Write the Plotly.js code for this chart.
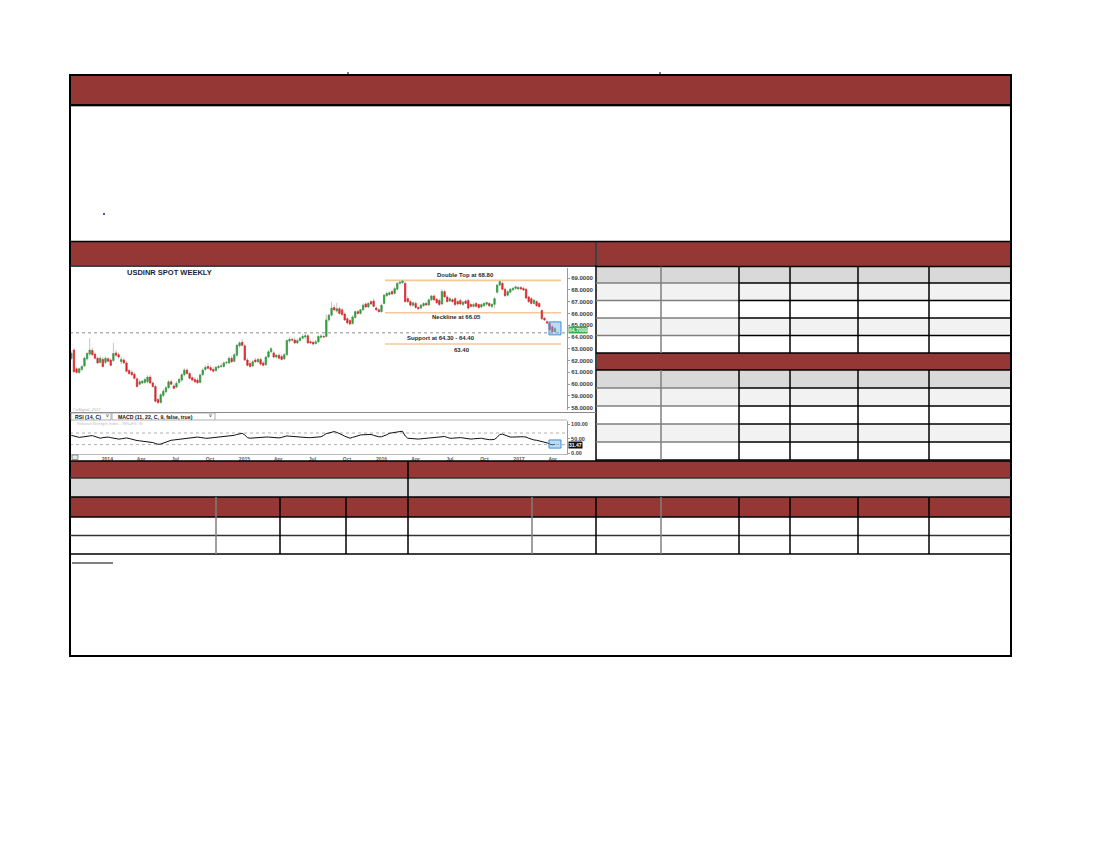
<!DOCTYPE html>
<html>
<head>
<meta charset="utf-8">
<script src="https://cdn.plot.ly/plotly-3.0.1.min.js"></script>
<style>
  html, body { margin: 0; padding: 0; background: #ffffff; }
  #page { width: 1100px; height: 850px; }
</style>
</head>
<body>
<div id="page"></div>
<script>
// USDINR spot, weekly candles (week ending Friday), first week below
const firstWeek = '2013-09-27';

const opens = [
  62.19, 62.90, 61.30, 61.00, 61.25, 61.55, 62.15, 62.55, 62.85, 62.55,
  62.20, 61.85, 62.10, 61.85, 62.15, 62.05, 62.00, 62.65, 62.50, 61.90,
  62.05, 61.80, 61.15, 61.00, 60.85, 60.45, 60.00, 60.10, 60.15, 60.20,
  60.60, 60.10, 59.80, 58.70, 58.45, 59.05, 59.35, 59.70, 60.20, 59.85,
  59.75, 60.15, 60.35, 60.80, 61.20, 60.90, 60.55, 60.40, 60.35, 60.15,
  60.80, 61.25, 61.50, 61.40, 61.25, 61.15, 61.40, 61.50, 61.50, 61.80,
  61.80, 62.20, 61.95, 62.45, 63.25, 63.55, 63.25, 62.05, 61.75, 61.55,
  62.05, 61.90, 62.10, 61.80, 61.65, 62.30, 62.75, 62.65, 62.30, 62.45,
  62.35, 62.15, 62.50, 63.65, 63.80, 63.75, 63.50, 63.70, 63.90, 64.00,
  64.10, 63.60, 63.55, 63.45, 63.60, 63.98, 64.05, 64.05, 65.45, 65.85,
  66.50, 66.20, 66.40, 66.30, 65.95, 65.55, 65.40, 65.15, 65.65, 66.15,
  66.00, 66.30, 66.80, 66.55, 67.00, 67.05, 66.45, 66.30, 66.15, 66.85,
  67.50, 67.60, 67.85, 67.70, 68.05, 68.55, 68.60, 68.55, 67.25, 67.00,
  66.70, 66.85, 66.50, 66.45, 66.65, 66.85, 66.72, 67.15, 67.48, 67.20,
  67.10, 66.80, 67.85, 67.40, 67.05, 67.15, 67.25, 67.00, 67.10, 66.75,
  67.05, 67.10, 66.75, 66.60, 66.85, 66.75, 66.55, 66.65, 66.78, 66.85,
  66.58, 66.77, 67.80, 68.40, 68.55, 68.05, 67.55, 67.80, 68.00, 68.12,
  68.08, 68.20, 68.12, 68.05, 67.40, 67.25, 66.85, 67.00, 66.85, 66.25,
  65.58, 65.30, 65.15, 64.87, 64.45
];

const highs = [
  62.80, 63.05, 61.45, 61.40, 61.65, 62.35, 62.75, 63.90, 63.10, 62.70,
  62.35, 62.40, 62.30, 62.35, 62.30, 62.20, 63.50, 62.90, 62.70, 62.30,
  62.20, 61.95, 61.30, 61.20, 61.00, 60.60, 60.40, 60.35, 60.55, 60.75,
  60.80, 60.25, 59.95, 58.85, 59.25, 59.60, 59.85, 60.35, 60.40, 60.05,
  60.25, 60.55, 60.95, 61.35, 61.35, 61.05, 60.70, 60.60, 60.55, 60.90,
  61.35, 61.60, 61.75, 61.60, 61.45, 61.55, 61.65, 61.75, 61.95, 61.95,
  62.35, 62.40, 62.65, 63.40, 63.65, 63.80, 63.40, 62.20, 61.95, 62.05,
  62.25, 62.25, 62.25, 61.95, 62.40, 62.90, 63.15, 62.80, 62.55, 62.60,
  62.55, 62.65, 63.80, 64.00, 63.95, 63.95, 63.85, 64.05, 64.25, 64.30,
  64.25, 63.75, 63.70, 63.75, 64.15, 64.25, 64.20, 65.90, 66.00, 67.00,
  66.75, 66.90, 66.55, 66.45, 66.10, 65.70, 65.55, 65.85, 66.25, 66.30,
  66.40, 66.85, 66.95, 66.95, 67.10, 67.25, 66.60, 66.45, 66.85, 67.65,
  67.85, 67.90, 68.00, 68.25, 68.65, 68.80, 68.85, 68.70, 67.45, 67.15,
  67.00, 67.00, 66.65, 66.80, 66.95, 67.00, 67.25, 67.55, 67.60, 67.30,
  67.25, 68.05, 68.00, 67.55, 67.40, 67.30, 67.40, 67.10, 67.25, 67.05,
  67.20, 67.25, 66.90, 66.90, 66.95, 66.85, 66.85, 66.95, 67.00, 66.95,
  66.85, 67.40, 68.50, 68.85, 68.70, 68.20, 67.95, 68.15, 68.25, 68.35,
  68.30, 68.30, 68.25, 68.15, 67.50, 67.35, 67.20, 67.10, 66.95, 66.35,
  65.70, 65.45, 65.25, 64.95, 64.85
];

const lows = [
  62.05, 60.95, 60.90, 60.85, 61.10, 61.45, 62.00, 62.40, 62.40, 62.10,
  61.70, 61.75, 61.40, 61.70, 61.85, 61.50, 61.90, 62.30, 62.15, 61.70,
  61.70, 61.00, 60.80, 60.70, 60.40, 59.70, 59.90, 60.00, 60.00, 60.05,
  60.00, 59.70, 58.45, 58.30, 58.35, 58.90, 59.20, 59.60, 59.90, 59.55,
  59.65, 60.00, 60.20, 60.65, 60.80, 60.40, 60.25, 60.10, 60.00, 60.05,
  60.70, 61.10, 61.25, 61.10, 61.00, 61.05, 61.30, 61.40, 61.40, 61.70,
  61.70, 61.80, 61.85, 62.35, 63.10, 63.20, 61.95, 61.50, 61.40, 61.45,
  61.80, 61.80, 61.60, 61.50, 61.55, 62.20, 62.60, 62.20, 62.20, 62.10,
  62.00, 62.05, 62.40, 63.50, 63.60, 63.40, 63.40, 63.60, 63.80, 63.85,
  63.40, 63.40, 63.30, 63.35, 63.50, 63.85, 63.90, 63.95, 65.30, 65.75,
  66.20, 66.05, 65.90, 65.80, 65.35, 65.05, 65.00, 65.05, 65.55, 65.90,
  65.90, 66.20, 66.45, 66.45, 66.70, 66.50, 66.20, 66.05, 66.05, 66.75,
  67.40, 67.50, 67.55, 67.60, 67.95, 68.45, 68.50, 66.90, 66.90, 66.60,
  66.60, 66.40, 66.25, 66.35, 66.55, 66.65, 66.60, 67.05, 67.05, 66.80,
  66.60, 66.70, 67.35, 66.90, 66.95, 66.90, 66.60, 66.65, 66.70, 66.65,
  66.80, 66.30, 66.50, 66.50, 66.50, 66.40, 66.45, 66.55, 66.65, 66.55,
  66.45, 66.43, 67.70, 68.30, 67.95, 67.40, 67.45, 67.70, 67.90, 68.00,
  67.95, 67.95, 67.90, 67.20, 66.90, 66.75, 66.75, 66.55, 66.50, 65.45,
  65.35, 65.10, 64.55, 64.30, 64.35
];

const closes = [
  62.62, 61.06, 61.00, 61.30, 61.50, 62.20, 62.60, 62.90, 62.50, 62.20,
  61.80, 62.20, 61.50, 62.20, 61.95, 61.60, 62.60, 62.45, 62.30, 62.10,
  61.80, 61.10, 60.90, 60.80, 60.50, 59.80, 60.20, 60.25, 60.40, 60.60,
  60.10, 59.80, 58.55, 58.44, 59.10, 59.40, 59.70, 60.20, 60.00, 59.65,
  60.07, 60.40, 60.80, 61.20, 60.90, 60.50, 60.35, 60.20, 60.13, 60.78,
  61.20, 61.43, 61.35, 61.20, 61.10, 61.43, 61.50, 61.55, 61.80, 61.85,
  62.20, 61.90, 62.50, 63.30, 63.50, 63.30, 62.05, 61.60, 61.50, 61.90,
  61.90, 62.10, 61.70, 61.60, 62.30, 62.75, 63.00, 62.30, 62.45, 62.20,
  62.10, 62.50, 63.70, 63.80, 63.75, 63.50, 63.70, 63.90, 64.05, 64.10,
  63.50, 63.50, 63.40, 63.60, 64.05, 64.08, 64.00, 65.45, 65.85, 66.45,
  66.30, 66.40, 66.00, 65.90, 65.45, 65.20, 65.10, 65.70, 66.15, 66.00,
  66.30, 66.70, 66.55, 66.85, 66.80, 66.60, 66.30, 66.15, 66.70, 67.55,
  67.70, 67.75, 67.65, 68.10, 68.55, 68.65, 68.75, 67.00, 67.00, 66.70,
  66.90, 66.50, 66.40, 66.70, 66.85, 66.72, 67.15, 67.48, 67.15, 66.90,
  66.75, 67.85, 67.40, 67.00, 67.25, 67.00, 66.75, 66.80, 66.80, 66.95,
  66.85, 66.45, 66.60, 66.75, 66.60, 66.50, 66.75, 66.85, 66.92, 66.65,
  66.77, 67.25, 68.40, 68.70, 68.05, 67.50, 67.85, 68.05, 68.12, 68.25,
  68.20, 68.07, 67.98, 67.30, 67.00, 66.85, 67.12, 66.65, 66.57, 65.55,
  65.44, 65.18, 64.62, 64.45, 64.70
];

// RSI (14, close), one value per weekly candle
const rsi14 = [
  62, 60, 57, 55, 56, 58, 59, 60, 61, 58,
  53, 52, 54, 55, 56, 54, 52, 50, 49, 50,
  52, 53, 51, 48, 46, 44, 43, 42, 41, 40,
  39, 37, 34, 31, 32, 35, 39, 43, 45, 46,
  47, 48, 49, 50, 52, 53, 55, 56, 56, 55,
  53, 52, 52, 53, 54, 55, 56, 56, 57, 57,
  58, 60, 62, 65, 67, 69, 63, 54, 52, 53,
  54, 54, 55, 55, 56, 56, 55, 54, 52, 53,
  55, 58, 60, 59, 58, 57, 56, 56, 55, 54,
  54, 54, 55, 56, 56, 57, 62, 68, 70, 73,
  75, 72, 69, 64, 59, 55, 52, 55, 58, 61,
  63, 64, 64, 65, 65, 62, 59, 57, 57, 60,
  64, 69, 71, 73, 74, 75, 76, 60, 52, 51,
  50, 49, 49, 50, 51, 52, 52, 52, 54, 55,
  57, 56, 58, 55, 52, 52, 53, 54, 54, 53,
  51, 50, 49, 50, 51, 52, 52, 50, 48, 47,
  47, 48, 55, 65, 66, 62, 59, 56, 56, 57,
  57, 57, 57, 56, 52, 48, 46, 45, 43, 42,
  39, 36, 32, 29, 31.47
];

// Chart pattern levels and their captions
const levelValues = [68.80, 66.05, 64.35, 63.40];
const levelLabels = ['Double Top at 68.80', 'Neckline at 66.05', 'Support at 64.30 - 64.40', '63.40'];

// Axis ticks
const priceTicks = [58, 59, 60, 61, 62, 63, 64, 65, 66, 67, 68, 69];
const rsiTicks = [0, 50, 100];
const rsiBands = [70, 30];
const quarterTicks = ['2014-01-01', '2014-04-01', '2014-07-01', '2014-10-01',
  '2015-01-01', '2015-04-01', '2015-07-01', '2015-10-01',
  '2016-01-01', '2016-04-01', '2016-07-01', '2016-10-01',
  '2017-01-01', '2017-04-01'];
const quarterLabels = ['2014', 'Apr', 'Jul', 'Oct', '2015', 'Apr', 'Jul', 'Oct',
  '2016', 'Apr', 'Jul', 'Oct', '2017', 'Apr'];

// ---- helpers ----
const W = 1100, H = 850;
const px = x => x / W;
const py = y => 1 - y / H;
const DAY = 864e5;
const FONT = 'Liberation Sans, Arial, sans-serif';
const t0 = Date.parse(firstWeek + 'T00:00:00Z');
const weeks = closes.map((_, i) => new Date(t0 + i * 7 * DAY).toISOString().slice(0, 10));
const shiftDays = (iso, d) => new Date(Date.parse(iso + 'T00:00:00Z') + d * DAY)
  .toISOString().slice(0, 19).replace('T', ' ');
const N = closes.length;

const RED = '#953735', GRAY = '#d9d9d9', LIGHT = '#f2f2f2', BLACK = '#000000', GREYLINE = '#7f7f7f';
const UP = '#2f9e3a', DOWN = '#e2262a', WICK = '#c6c6c6';

// ---- traces ----
const wicks = {
  type: 'candlestick', x: weeks, open: opens, high: highs, low: lows, close: closes,
  xaxis: 'x', yaxis: 'y', whiskerwidth: 0, hoverinfo: 'skip',
  increasing: { line: { color: WICK, width: 1 }, fillcolor: WICK },
  decreasing: { line: { color: WICK, width: 1 }, fillcolor: WICK }
};
const bodies = {
  type: 'candlestick', x: weeks, open: opens, close: closes,
  high: opens.map((o, i) => Math.max(o, closes[i])),
  low: opens.map((o, i) => Math.min(o, closes[i])),
  xaxis: 'x', yaxis: 'y', whiskerwidth: 0, hoverinfo: 'skip',
  increasing: { line: { color: UP, width: 0.6 }, fillcolor: UP },
  decreasing: { line: { color: DOWN, width: 0.6 }, fillcolor: DOWN }
};
const rsiLine = {
  type: 'scatter', mode: 'lines', x: weeks, y: rsi14, xaxis: 'x', yaxis: 'y2',
  line: { color: '#111111', width: 1 }, hoverinfo: 'skip'
};

// ---- shapes ----
const shapes = [];
function box(x0, y0, x1, y1, fill, layer) {
  shapes.push({ type: 'rect', xref: 'paper', yref: 'paper', x0: px(x0), x1: px(x1), y0: py(y1), y1: py(y0),
    fillcolor: fill, line: { width: 0 }, layer: layer || 'below' });
}
function frame(x0, y0, x1, y1, color, w, fill) {
  shapes.push({ type: 'rect', xref: 'paper', yref: 'paper', x0: px(x0), x1: px(x1), y0: py(y1), y1: py(y0),
    fillcolor: fill || 'rgba(0,0,0,0)', line: { color: color, width: w } });
}
function hline(y, x0, x1, color, w, dash) {
  shapes.push({ type: 'line', xref: 'paper', yref: 'paper', x0: px(x0), x1: px(x1), y0: py(y), y1: py(y),
    line: { color: color, width: w, dash: dash || 'solid' } });
}
function vline(x, y0, y1, color, w) {
  shapes.push({ type: 'line', xref: 'paper', yref: 'paper', x0: px(x), x1: px(x), y0: py(y0), y1: py(y1),
    line: { color: color, width: w } });
}

// page blocks
box(71, 76, 1010, 104, RED);
box(71, 242, 595, 265, RED);
box(597, 242, 1010, 266, RED);
box(597, 267, 1010, 283, GRAY);
box(597, 283, 1010, 300.5, LIGHT);
box(597, 318, 1010, 335.5, LIGHT);
box(597, 353, 1010, 370, RED);
box(597, 370, 1010, 388, GRAY);
box(597, 388, 1010, 406, LIGHT);
box(597, 424, 1010, 442, LIGHT);
box(71, 461, 1010, 478, RED, 'above');
box(71, 478, 1010, 497, GRAY, 'above');
box(71, 497, 1010, 517, RED, 'above');
box(103, 213, 105, 215, '#2a62c0');

// rules of the form
frame(70, 75, 1011, 656, BLACK, 2);
vline(348, 72, 75, BLACK, 1);
vline(660, 72, 75, BLACK, 1);
hline(105, 70, 1011, BLACK, 2);
hline(106.5, 71, 1010, '#b0b0b0', 1);
hline(241.5, 70, 1011, BLACK, 1.5);
vline(596, 241, 461, BLACK, 1.5);
hline(266, 70, 596, BLACK, 1.5);

const rightCols = [661, 739, 790, 858, 929];
[266.5, 353, 370, 460].forEach(y => hline(y, 596, 1011, BLACK, 1.5));
[283, 300.5, 318, 335.5, 388, 406, 424, 442].forEach(y => {
  hline(y, 596, 739, GREYLINE, 1.5);
  hline(y, 739, 1011, BLACK, 1.5);
});
rightCols.forEach(x => {
  const c = x === 661 ? GREYLINE : BLACK;
  vline(x, 266.5, 353, c, 1.5);
  vline(x, 370, 460, c, 1.5);
});

hline(461, 70, 1011, BLACK, 1.5);
hline(478, 70, 1011, '#333333', 1.5);
hline(497, 70, 1011, BLACK, 1.5);
hline(517, 70, 1011, BLACK, 1.5);
hline(535.5, 70, 1011, '#333333', 1.5);
hline(554, 70, 1011, BLACK, 1.5);
vline(408, 461, 554, BLACK, 1.5);
[216, 280, 346, 532, 596, 661, 739, 790, 858, 929].forEach(x => {
  const c = (x === 216 || x === 532 || x === 661) ? GREYLINE : BLACK;
  vline(x, 497, 554, c, 1.5);
});
hline(563, 72, 113, BLACK, 1);

// study tabs between price and RSI panes
hline(412.5, 70, 596, '#8a8a8a', 1);
frame(71, 413, 111, 420, '#9a9a9a', 0.8, '#ffffff');
frame(112, 413, 215, 420, '#9a9a9a', 0.8, '#ffffff');
hline(420, 215, 567, '#b5b5b5', 1);
frame(72, 455, 78, 459.5, '#777777', 0.8, '#e8e8e8');

// pattern levels drawn on the price scale
const lineSpan = [385, 561];
[0, 1, 3].forEach(k => shapes.push({
  type: 'line', xref: 'paper', yref: 'y', x0: px(lineSpan[0]), x1: px(lineSpan[1]),
  y0: levelValues[k], y1: levelValues[k], line: { color: '#f7c897', width: 1.6 }, layer: 'below'
}));
shapes.push({
  type: 'line', xref: 'paper', yref: 'y', x0: px(70), x1: px(567),
  y0: levelValues[2], y1: levelValues[2], line: { color: '#8c8c8c', width: 1, dash: 'dot' }, layer: 'below'
});
// RSI guide levels
rsiBands.forEach(v => shapes.push({
  type: 'line', xref: 'paper', yref: 'y2', x0: px(70), x1: px(567), y0: v, y1: v,
  line: { color: '#b0b0b0', width: 1, dash: 'dot' }, layer: 'below'
}));

// highlight over the latest candles
const lastClose = closes[N - 1];
const recentHi = Math.max(...highs.slice(N - 3));
const recentLo = Math.min(...lows.slice(N - 3));
shapes.push({
  type: 'rect', xref: 'x', yref: 'y', x0: shiftDays(weeks[N - 3], -2), x1: shiftDays(weeks[N - 1], 16),
  y0: recentLo - 0.12, y1: recentHi + 0.03, fillcolor: 'rgba(110,175,235,0.45)',
  line: { color: '#3b8fd9', width: 1 }
});
const rsiRecent = rsi14.slice(N - 3);
shapes.push({
  type: 'rect', xref: 'x', yref: 'y2', x0: shiftDays(weeks[N - 3], -2), x1: shiftDays(weeks[N - 1], 16),
  y0: Math.min(...rsiRecent) - 11, y1: Math.max(...rsiRecent) + 14, fillcolor: 'rgba(110,175,235,0.45)',
  line: { color: '#3b8fd9', width: 1 }
});

// ---- annotations ----
const ann = [];
function note(x, y, text, size, color, extra) {
  ann.push(Object.assign({
    xref: 'paper', yref: 'paper', x: px(x), y: py(y), text: text, showarrow: false,
    xanchor: 'center', yanchor: 'middle', font: { family: FONT, size: size, color: color, weight: 'bold' }
  }, extra || {}));
}
note(169, 272, 'USDINR SPOT WEEKLY', 7.5, '#1d1d3a');
note(71, 409.5, '\u00a9eSignal, 2017', 4, '#b0b0b0', { xanchor: 'left', font: { family: FONT, size: 4, color: '#b0b0b0' } });
note(73, 416.6, 'RSI (14, C)', 5.2, '#111111', { xanchor: 'left' });
note(107, 416.3, '\u02c5', 5, '#555555');
note(116, 416.6, 'MACD (11, 22, C, 9, false, true)', 5.2, '#111111', { xanchor: 'left' });
note(211, 416.3, '\u02c5', 5, '#555555');
note(75, 423.5, 'Relative Strength Index - INR=FX, W', 4, '#c0c0c0', { xanchor: 'left', font: { family: FONT, size: 4, color: '#c0c0c0' } });

const labelX = [465, 456, 441, 462];
const labelShift = [5, -4, -5, -6];
levelLabels.forEach((t, k) => ann.push({
  xref: 'paper', yref: 'y', x: px(labelX[k]), y: levelValues[k], yshift: labelShift[k], text: t,
  showarrow: false, xanchor: 'center', yanchor: 'middle',
  font: { family: FONT, size: 6, color: '#2a2a2a', weight: 'bold' }
}));

// last-value tags on the price and RSI scales
ann.push({
  xref: 'paper', yref: 'y', x: px(567.5), y: lastClose, yshift: -1.5, text: lastClose.toFixed(4), showarrow: false,
  xanchor: 'left', yanchor: 'middle', bgcolor: '#3aae4a', borderpad: 0,
  font: { family: FONT, size: 5, color: '#e9ffe9', weight: 'bold' }
});
const lastRsi = rsi14[N - 1];
ann.push({
  xref: 'paper', yref: 'y2', x: px(567.5), y: lastRsi, yshift: -1, text: lastRsi.toFixed(2), showarrow: false,
  xanchor: 'left', yanchor: 'middle', bgcolor: '#111111', borderpad: 0,
  font: { family: FONT, size: 5, color: '#ffffff', weight: 'bold' }
});

// ---- layout ----
const tickFont = { family: FONT, size: 6, color: '#3c3c3c', weight: 'bold' };
const layout = {
  width: W, height: H, margin: { l: 0, r: 0, t: 0, b: 0 },
  paper_bgcolor: '#ffffff', plot_bgcolor: 'rgba(0,0,0,0)',
  showlegend: false, hovermode: false,
  font: { family: FONT },
  xaxis: {
    domain: [px(70), px(567)], anchor: 'y2', type: 'date',
    range: [shiftDays(weeks[0], -3.5), shiftDays(weeks[N - 1], 32)],
    rangeslider: { visible: false },
    tickmode: 'array', tickvals: quarterTicks, ticktext: quarterLabels,
    tickfont: { family: FONT, size: 5, color: '#5a5a5a', weight: 'bold' },
    ticks: '', showgrid: false, zeroline: false,
    showline: true, linecolor: '#b8b8b8', linewidth: 1, fixedrange: true
  },
  yaxis: {
    domain: [py(410), py(268)], anchor: 'x', side: 'right',
    range: [57.81, 69.85],
    tickmode: 'array', tickvals: priceTicks, ticktext: priceTicks.map(v => v.toFixed(4)),
    tickfont: tickFont, ticks: 'outside', ticklen: 2, tickcolor: '#9a9a9a',
    showgrid: false, zeroline: false, showline: true, linecolor: '#9a9a9a', linewidth: 1, fixedrange: true
  },
  yaxis2: {
    domain: [py(454), py(421)], anchor: 'x', side: 'right',
    range: [-2.4, 111.4],
    tickmode: 'array', tickvals: rsiTicks, ticktext: rsiTicks.map(v => v.toFixed(2)),
    tickfont: { family: FONT, size: 5.5, color: '#3c3c3c', weight: 'bold' },
    ticks: 'outside', ticklen: 2, tickcolor: '#9a9a9a',
    showgrid: false, zeroline: false, showline: true, linecolor: '#9a9a9a', linewidth: 1, fixedrange: true
  },
  shapes: shapes,
  annotations: ann
};

Plotly.newPlot('page', [wicks, bodies, rsiLine], layout, { staticPlot: true, displayModeBar: false });
</script>
</body>
</html>
